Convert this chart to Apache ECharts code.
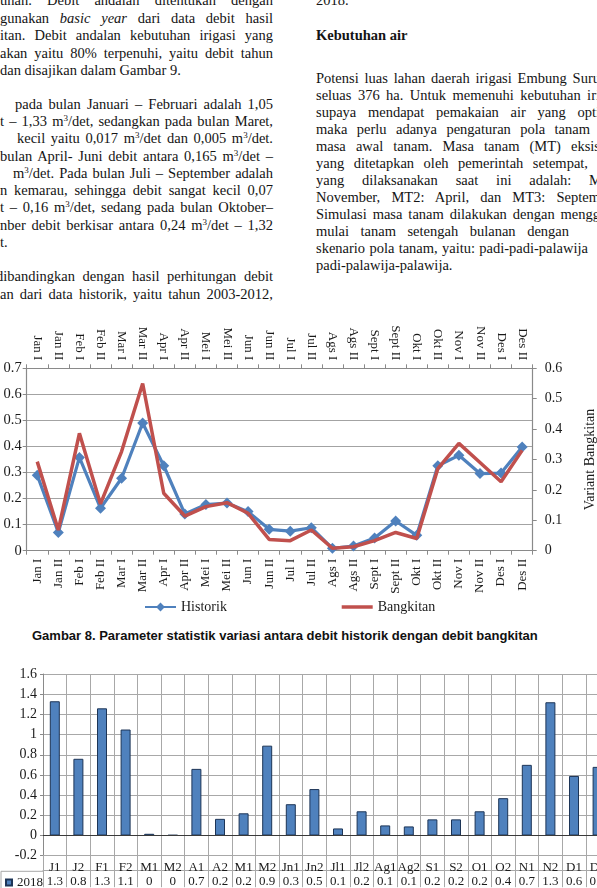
<!DOCTYPE html>
<html><head><meta charset="utf-8">
<script src="https://cdn.jsdelivr.net/npm/echarts@6/dist/echarts.min.js"></script>
<style>
html,body{margin:0;padding:0;width:597px;height:888px;overflow:hidden;background:#fff;}
#page{position:relative;width:597px;height:888px;overflow:hidden;}
.ln{position:absolute;white-space:nowrap;font-family:'Liberation Serif','Times New Roman',serif;font-size:14.5px;line-height:17px;height:17px;color:#141414;}
.j{text-align:justify;text-align-last:justify;}
.ln sup{font-size:9px;line-height:0;vertical-align:5px;}
#line{position:absolute;left:-40px;top:300px;width:680px;height:320px;}
#cap{position:absolute;left:32px;top:627px;white-space:nowrap;font-family:'Liberation Sans',Arial,sans-serif;font-weight:bold;font-size:13px;line-height:17px;color:#111;}
#bar{position:absolute;left:0;top:645px;width:640px;height:243px;}
</style></head>
<body><div id="page">
<div id="text"></div>
<div id="line"></div>
<div id="cap">Gambar 8. Parameter statistik variasi antara debit historik dengan debit bangkitan</div>
<div id="bar"></div>
</div>
<script>
// ---------- chart data ----------
const periods = ['Jan I','Jan II','Feb I','Feb II','Mar I','Mar II','Apr I','Apr II','Mei I','Mei II','Jun I','Jun II','Jul I','Jul II','Ags I','Ags II','Sept I','Sept II','Okt I','Okt II','Nov I','Nov II','Des I','Des II'];
const historik = [0.29,0.07,0.358,0.163,0.278,0.49,0.326,0.141,0.177,0.183,0.15,0.082,0.075,0.088,0.009,0.018,0.049,0.114,0.059,0.326,0.366,0.296,0.298,0.398];
const bangkitan = [0.293,0.068,0.386,0.154,0.326,0.55,0.189,0.114,0.145,0.158,0.123,0.037,0.033,0.068,0.008,0.013,0.033,0.06,0.04,0.27,0.353,0.29,0.227,0.33];
const leftAxisMax = 0.7, rightAxisMax = 0.6, lineStep = 0.1;

const months = ['J1','J2','F1','F2','M1','M2','A1','A2','M1','M2','Jn1','Jn2','Jl1','Jl2','Ag1','Ag2','S1','S2','O1','O2','N1','N2','D1','D2'];
const debit2018 = [1.33,0.76,1.26,1.05,0.017,0.005,0.66,0.165,0.22,0.89,0.31,0.46,0.07,0.24,0.10,0.09,0.16,0.16,0.24,0.37,0.70,1.32,0.59,0.68];
const tableLabels = ['1.3','0.8','1.3','1.1','0','0','0.7','0.2','0.2','0.9','0.3','0.5','0.1','0.2','0.1','0.1','0.2','0.2','0.2','0.4','0.7','1.3','0.6','0.7'];
const barMin = -0.2, barMax = 1.6, barStep = 0.2;

// ---------- page text ----------
const textLines = [
 // [left, centerY, width(0 = natural), html, justify]
 [0,0.8,273,'unan.  Debit  andalan  ditentukan  dengan',1],
 [0,18.3,273,'gunakan <i>basic year</i> dari data debit hasil',1],
 [0,35.7,273,'itan. Debit andalan kebutuhan irigasi yang',1],
 [0,53.3,273,'akan yaitu 80% terpenuhi, yaitu debit tahun',1],
 [0,70.7,0,'dan disajikan dalam Gambar 9.',0],
 [15,104.3,258,'pada bulan Januari – Februari  adalah 1,05',1],
 [0,121.5,273,'t – 1,33 m<sup>3</sup>/det, sedangkan pada bulan Maret,',1],
 [17,138.8,256,'kecil yaitu 0,017 m<sup>3</sup>/det dan 0,005 m<sup>3</sup>/det.',1],
 [0,156,273,'bulan April- Juni debit antara 0,165 m<sup>3</sup>/det –',1],
 [13,173.3,260,'m<sup>3</sup>/det. Pada bulan Juli – September adalah',1],
 [0,190.5,273,'n kemarau, sehingga debit sangat kecil 0,07',1],
 [0,207.8,273,'t – 0,16 m<sup>3</sup>/det, sedang  pada bulan Oktober–',1],
 [0,225,273,'nber  debit berkisar antara 0,24 m<sup>3</sup>/det – 1,32',1],
 [0,242.3,0,'t.',0],
 [-4,276.7,277,'dibandingkan dengan hasil perhitungan debit',1],
 [0,294,273,'an dari data historik, yaitu tahun 2003-2012,',1],
 [316,0.8,0,'2018.',0],
 [316,35.7,0,'<b>Kebutuhan air</b>',0],
 [316,78.3,284,'Potensi luas lahan daerah irigasi Embung Suru',1],
 [316,95.3,284,'seluas 376 ha. Untuk memenuhi kebutuhan iri',1],
 [316,112.3,284,'supaya mendapat pemakaian air yang opti',1],
 [316,129.3,274,'maka perlu adanya pengaturan pola tanam',1],
 [316,146.3,284,'masa awal tanam. Masa tanam (MT) eksis',1],
 [316,163.3,272,'yang ditetapkan oleh pemerintah setempat,',1],
 [316,180.3,286,'yang dilaksanakan saat ini adalah: M',1],
 [316,197.3,284,'November, MT2: April, dan MT3: Septem',1],
 [316,214.3,284,'Simulasi masa tanam dilakukan dengan mengg',1],
 [316,231.3,253,'mulai tanam setengah bulanan dengan',1],
 [316,248.3,272,'skenario pola tanam, yaitu: padi-padi-palawija',1],
 [316,265.3,0,'padi-palawija-palawija.',0]
];
const tdiv = document.getElementById('text');
textLines.forEach(([x,y,w,h,j])=>{
  const d=document.createElement('div');
  d.className='ln'+(j?' j':'');
  d.style.left=x+'px'; d.style.top=(y-8.5)+'px';
  if(w) d.style.width=w+'px';
  d.innerHTML=h; tdiv.appendChild(d);
});

// ---------- line chart ----------
const serif = "'Liberation Serif','Times New Roman',serif";
const axisGray = '#8a8a8a';
const fmt1 = v => v===0 ? '0' : (Math.round(v*10)/10).toString();
const lc = echarts.init(document.getElementById('line'), null, {renderer:'canvas'});
const catAxis = (pos) => ({
  type:'category', position:pos, data:periods, boundaryGap:true,
  axisLine:{show:true, onZero:false, lineStyle:{color:axisGray, width:1.2}},
  axisTick:{show:true, interval:0, length:4, lineStyle:{color:axisGray}},
  axisLabel:{interval:0, rotate:90, margin:8, fontFamily:serif, fontSize:13, color:'#1a1a1a'},
  splitLine:{show:false}
});
lc.setOption({
  animation:false,
  grid:{left:66.7, top:68.3, width:506, height:182.4, containLabel:false},
  xAxis:[catAxis('bottom'), catAxis('top')],
  yAxis:[
    {type:'value', position:'left', min:0, max:leftAxisMax, interval:lineStep,
     axisLine:{show:true, lineStyle:{color:axisGray, width:1.2}},
     axisTick:{show:true, length:4, lineStyle:{color:axisGray}},
     splitLine:{show:true, lineStyle:{color:'#a3a3a3', width:1}},
     axisLabel:{formatter:fmt1, margin:5, fontFamily:serif, fontSize:14.5, color:'#1a1a1a'}},
    {type:'value', position:'right', min:0, max:rightAxisMax, interval:lineStep,
     name:'Variant Bangkitan', nameLocation:'middle', nameGap:51, nameRotate:90,
     nameTextStyle:{fontFamily:serif, fontSize:14, color:'#1a1a1a'},
     axisLine:{show:true, lineStyle:{color:axisGray, width:1.2}},
     axisTick:{show:true, length:4, lineStyle:{color:axisGray}},
     splitLine:{show:false},
     axisLabel:{formatter:fmt1, margin:12, fontFamily:serif, fontSize:14, color:'#1a1a1a'}}
  ],
  legend:[
    {data:['Historik'], left:184, top:300, padding:0, itemWidth:31, itemHeight:11, textStyle:{fontFamily:serif, fontSize:14, color:'#1a1a1a'}},
    {data:['Bangkitan'], left:381.7, top:300, padding:0, itemWidth:31, itemHeight:3.5, icon:'rect', textStyle:{fontFamily:serif, fontSize:14, color:'#1a1a1a'}}
  ],
  series:[
    {name:'Historik', type:'line', xAxisIndex:0, yAxisIndex:0, data:historik,
     symbol:'diamond', symbolSize:11, showAllSymbol:true,
     lineStyle:{color:'#4F81BD', width:3.2}, itemStyle:{color:'#4F81BD'}, z:2},
    {name:'Bangkitan', type:'line', xAxisIndex:0, yAxisIndex:1, data:bangkitan,
     symbol:'none', lineStyle:{color:'#C0504D', width:3.5}, itemStyle:{color:'#C0504D'}, z:3}
  ]
});

// ---------- bar chart ----------
const bc = echarts.init(document.getElementById('bar'), null, {renderer:'canvas'});
const gridGray = '#a8a8a8';
bc.setOption({
  animation:false,
  grid:{left:43, top:29, width:566.4, height:182.7, containLabel:false},
  xAxis:[
    {type:'category', position:'bottom', data:months, boundaryGap:true,
     axisLine:{show:true, onZero:false, lineStyle:{color:gridGray}},
     axisTick:{show:true, interval:0, length:31.5, lineStyle:{color:gridGray}},
     splitLine:{show:true, interval:0, lineStyle:{color:gridGray}},
     axisLabel:{interval:0, margin:5, fontFamily:serif, fontSize:13, color:'#1a1a1a'}},
    {type:'category', position:'bottom', offset:14.3, data:months, boundaryGap:true,
     axisLine:{show:true, onZero:false, lineStyle:{color:gridGray}},
     axisTick:{show:false}, splitLine:{show:false},
     axisLabel:{interval:0, margin:5, formatter:(v,i)=>tableLabels[i], fontFamily:serif, fontSize:13, color:'#1a1a1a'}}
  ],
  yAxis:{type:'value', min:barMin, max:barMax, interval:barStep,
     axisLine:{show:true, lineStyle:{color:'#8a8a8a'}},
     axisTick:{show:true, length:3, lineStyle:{color:'#8a8a8a'}},
     splitLine:{show:true, lineStyle:{color:gridGray}},
     axisLabel:{formatter:v=>(Math.round(v*10)/10).toString(), margin:6, fontFamily:serif, fontSize:14, color:'#1a1a1a'}},
  legend:{data:['2018'], left:5, top:231, padding:0, itemWidth:6, itemHeight:6, icon:'rect', itemGap:0,
     textStyle:{fontFamily:serif, fontSize:13, color:'#1a1a1a'}},
  graphic:[{type:'polyline', shape:{points:[[1,243],[1,226.3],[43,226.3]]}, style:{stroke:gridGray, fill:null, lineWidth:1}, silent:true}],
  series:[{name:'2018', type:'bar', data:debit2018, barWidth:10,
     itemStyle:{color:'#4F81BD', borderColor:'#1d3557', borderWidth:1},
     markLine:{silent:true, symbol:'none', label:{show:false}, lineStyle:{color:'#3a3a3a', width:1, type:'solid'}, data:[{yAxis:0}]}}]
});
</script>
</body></html>
